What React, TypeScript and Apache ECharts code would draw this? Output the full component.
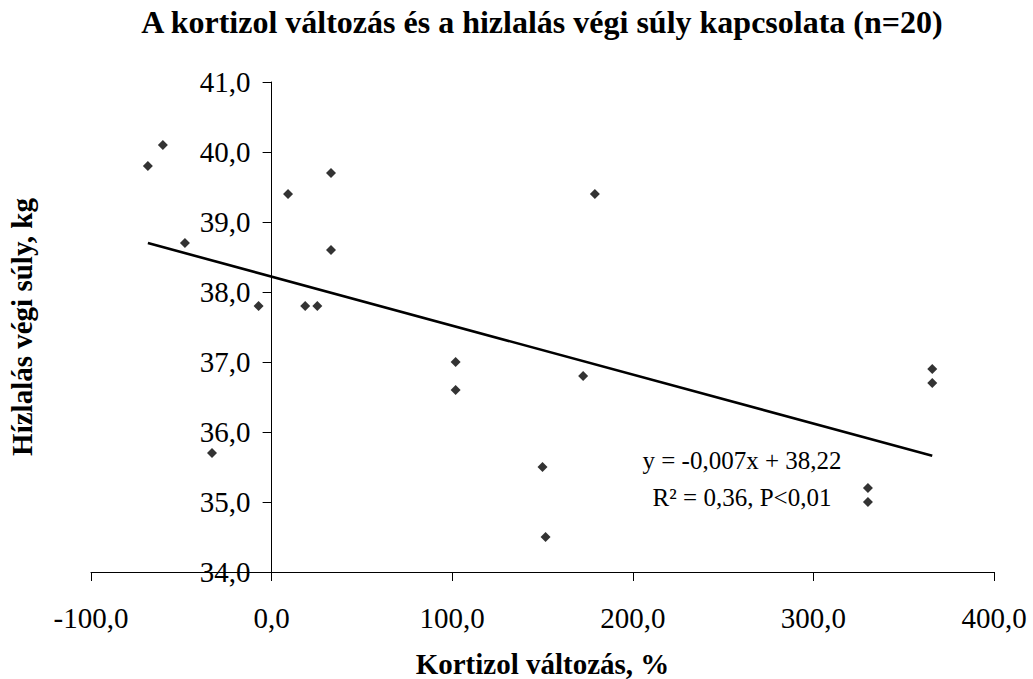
import React, { useEffect, useRef } from "react";
import * as echarts from "echarts";

const titleText = "A kortizol változás és a hizlalás végi súly kapcsolata (n=20)";
const xAxisName = "Kortizol változás, %";
const yAxisName = "Hízlalás végi súly, kg";

const cortisolChange = [
  -68.5, -60.2, -48, -33, -7.2, 9.1, 18.6, 25.3, 32.9, 32.9,
  101.9, 101.9, 150, 151.7, 172.5, 179, 330.2, 330.2, 365.8, 365.8,
];
const finalWeight = [
  39.8, 40.1, 38.7, 35.7, 37.8, 39.4, 37.8, 37.8, 39.7, 38.6,
  37.0, 36.6, 35.5, 34.5, 36.8, 39.4, 35.2, 35.0, 36.9, 36.7,
];

const trendSlope = -0.007;
const trendIntercept = 38.22;
const equationLines = ["y = -0,007x + 38,22", "R² = 0,36, P<0,01"];

const xRange = { min: -100, max: 400, interval: 100 };
const yRange = { min: 34, max: 41, interval: 1 };

const FONT = "'Liberation Serif', 'Times New Roman', serif";

export default function App() {
  const ref = useRef<HTMLDivElement>(null);

  useEffect(() => {
    if (!ref.current) return;
    const chart = echarts.init(ref.current, undefined, { renderer: "svg" });
    const points = cortisolChange.map((x, i) => [x, finalWeight[i]]);
    const xMin = Math.min(...cortisolChange);
    const xMax = Math.max(...cortisolChange);
    const trend = [
      [xMin, trendSlope * xMin + trendIntercept],
      [xMax, trendSlope * xMax + trendIntercept],
    ];
    const fmt = (v: number) => v.toFixed(1).replace(".", ",");

    const gridLeft = 91;
    const gridRight = 39;
    const plotWidth = 1033 - gridLeft - gridRight;
    // y axis crosses the x axis at x = 0: shift it inward from the grid's left edge
    const yAxisShift = (plotWidth * (0 - xRange.min)) / (xRange.max - xRange.min);

    chart.setOption({
      animation: false,
      backgroundColor: "#fff",
      title: {
        text: titleText,
        left: 542,
        top: 6,
        padding: 0,
        textAlign: "center",
        textStyle: { fontFamily: FONT, fontWeight: "bold", fontSize: 32, color: "#000" },
      },
      grid: {
        left: gridLeft,
        right: gridRight,
        top: 82,
        bottom: 107,
        containLabel: false,
        outerBoundsMode: "none",
      },
      xAxis: {
        type: "value",
        min: xRange.min,
        max: xRange.max,
        interval: xRange.interval,
        name: xAxisName,
        nameLocation: "middle",
        nameGap: 77,
        nameTextStyle: { fontFamily: FONT, fontWeight: "bold", fontSize: 29, color: "#000" },
        axisLine: { show: true, onZero: false, lineStyle: { color: "#000", width: 1 } },
        axisTick: { show: true, length: 9, lineStyle: { color: "#000", width: 1 } },
        axisLabel: { formatter: fmt, margin: 31, fontFamily: FONT, fontSize: 29, color: "#000" },
        splitLine: { show: false },
      },
      yAxis: {
        type: "value",
        position: "left",
        offset: -yAxisShift,
        min: yRange.min,
        max: yRange.max,
        interval: yRange.interval,
        name: yAxisName,
        nameLocation: "middle",
        nameRotate: 90,
        nameGap: 235,
        nameTextStyle: { fontFamily: FONT, fontWeight: "bold", fontSize: 29, color: "#000" },
        axisLine: { show: true, onZero: false, lineStyle: { color: "#000", width: 1 } },
        axisTick: { show: true, length: 9, lineStyle: { color: "#000", width: 1 } },
        axisLabel: { formatter: fmt, margin: 21, fontFamily: FONT, fontSize: 29, color: "#000" },
        splitLine: { show: false },
      },
      series: [
        {
          type: "scatter",
          data: points,
          symbol: "diamond",
          symbolSize: 10,
          itemStyle: { color: "#000" },
          z: 3,
        },
        {
          type: "line",
          data: trend,
          symbol: "none",
          lineStyle: { color: "#000", width: 2.6 },
          z: 2,
        },
      ],
      graphic: [
        {
          type: "text",
          x: 742,
          y: 460,
          style: {
            text: equationLines[0],
            fontFamily: FONT,
            fontSize: 25,
            fill: "#000",
            align: "center",
            verticalAlign: "middle",
          },
        },
        {
          type: "text",
          x: 742,
          y: 497,
          style: {
            text: equationLines[1],
            fontFamily: FONT,
            fontSize: 25,
            fill: "#000",
            align: "center",
            verticalAlign: "middle",
          },
        },
      ],
    });
    return () => chart.dispose();
  }, []);

  return (
    <div
      ref={ref}
      style={{ position: "absolute", left: 0, top: 0, width: 1033, height: 679, background: "#fff" }}
    />
  );
}
